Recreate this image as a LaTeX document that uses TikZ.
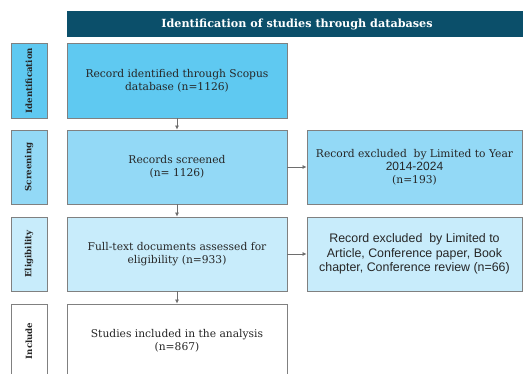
\documentclass[tikz,border=0pt]{standalone}
\usepackage{fontspec}
\setmainfont{DejaVu Serif}
\newfontfamily\sansf{Liberation Sans}
\usetikzlibrary{arrows.meta}
\definecolor{hdr}{HTML}{0B4F6A}
\definecolor{cA}{HTML}{5FC9F1}
\definecolor{cB}{HTML}{93D9F6}
\definecolor{cC}{HTML}{C8ECFB}
\definecolor{brd}{HTML}{808080}
\definecolor{arr}{HTML}{6E6E6E}
\definecolor{txt}{HTML}{262626}
\begin{document}
\begin{tikzpicture}[x=1pt,y=-1pt,
  box/.style={draw=brd,line width=0.8pt,inner sep=2pt,align=center,text=txt,font=\fontsize{10.7}{13}\selectfont},
  lab/.style={draw=brd,line width=0.8pt,minimum width=36pt,inner sep=0pt},
  labtext/.style={rotate=90,text=txt,font=\fontsize{8.6}{10}\selectfont\bfseries},
  conn/.style={draw=arr,line width=0.7pt,-{Latex[length=4pt,width=4pt]}}]
\useasboundingbox (0,0) rectangle (523,374);
\clip (0,0) rectangle (523,374);
% header
\node[fill=hdr,minimum width=462pt,minimum height=26pt,inner sep=0pt] (hd) at (298,24) {};
\node[text=white,font=\fontsize{11.2}{13}\selectfont\bfseries] (hdt) at (297,24) {Identification of studies through databases};
% left labels
\node[lab,fill=cA,minimum height=75pt] (l1) at (29,80.5) {};
\node[labtext] at (l1) {Identification};
\node[lab,fill=cB,minimum height=74pt] (l2) at (29,167) {};
\node[labtext] at (l2) {Screening};
\node[lab,fill=cC,minimum height=74pt] (l3) at (29,254) {};
\node[labtext] at (l3) {Eligibility};
\node[lab,fill=white,minimum height=74pt] (l4) at (29,341) {};
\node[labtext] at (l4) {Include};
% main boxes
\node[box,fill=cA,minimum width=220pt,minimum height=75pt] (b1) at (177,80.5) {Record identified through Scopus\\database (n=1126)};
\node[box,fill=cB,minimum width=220pt,minimum height=74pt] (b2) at (177,167) {Records screened\\(n= 1126)};
\node[box,fill=cC,minimum width=220pt,minimum height=74pt] (b3) at (177,254) {Full-text documents assessed for\\eligibility (n=933)};
\node[box,fill=white,minimum width=220pt,minimum height=74pt] (b4) at (177,341) {Studies included in the analysis\\(n=867)};
% right boxes
\node[box,fill=cB,minimum width=215pt,minimum height=74pt] (r1) at (414.5,167) {Record excluded\ \ by Limited to Year\\{\sansf\fontsize{12}{13}\selectfont 2014-2024}\\(n=193)};
\node[box,fill=cC,minimum width=215pt,minimum height=74pt,font=\sansf\fontsize{12.4}{14.5}\selectfont] (r2) at (414.5,254) {Record excluded\ \ by Limited to\\Article, Conference paper, Book\\chapter, Conference review (n=66)};
% connectors
\draw[conn] (b1) -- (b2);
\draw[conn] (b2) -- (b3);
\draw[conn] (b3) -- (b4);
\draw[conn] (b2) -- (r1);
\draw[conn] (b3) -- (r2);
\end{tikzpicture}
\end{document}
